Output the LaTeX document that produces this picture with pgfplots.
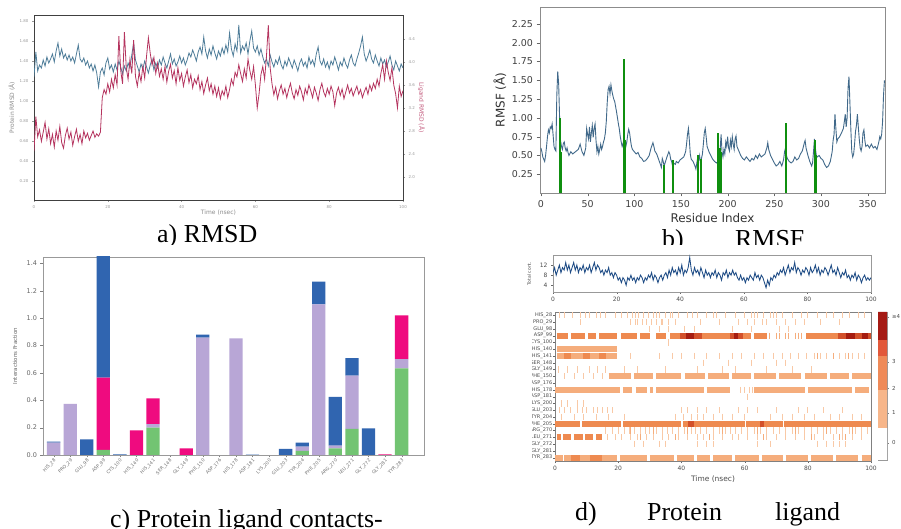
\documentclass[border=0pt]{standalone}
\usepackage{pgfplots}
\usepackage{pgfplotstable}
\pgfplotsset{compat=1.18, /pgf/number format/assume math mode=true}
\usepackage{fontspec}
\setmainfont{DejaVu Sans}
\newfontfamily\capfont{Liberation Serif}

\definecolor{pablue}{HTML}{4F7D99}
\definecolor{pared}{HTML}{B5345F}
\definecolor{pbline}{HTML}{41698A}
\definecolor{pbgreen}{HTML}{0F8F0F}
\definecolor{pcgreen}{HTML}{72C472}
\definecolor{pclav}{HTML}{B8A6D6}
\definecolor{pcmag}{HTML}{EF0B7F}
\definecolor{pcblue}{HTML}{3065B0}
\definecolor{pdnavy}{HTML}{1D4B85}
\definecolor{hmA}{HTML}{F9C9A6}
\definecolor{hmB}{HTML}{F5AD7C}
\definecolor{hmC}{HTML}{EE8A50}
\definecolor{hmD}{HTML}{D2502A}
\definecolor{hmE}{HTML}{A51C10}
\definecolor{cbA}{HTML}{F7B68A}
\definecolor{cbB}{HTML}{EF8A58}
\definecolor{cbC}{HTML}{E2583A}
\definecolor{cbD}{HTML}{A51A14}

% time series: protein RMSD, ligand RMSD, total contacts
\pgfplotstableread{
t prot lig cont
0 1.24 2.45 9
0.5 1.49 3.05 11
1 1.30 2.70 8
1.5 1.36 2.82 10
2 1.33 2.62 12
2.5 1.41 2.78 9
3 1.35 2.95 11
3.5 1.44 2.66 10
4 1.38 2.84 13
4.5 1.42 2.58 10
5 1.47 2.74 12
5.5 1.39 2.52 9
6 1.50 2.80 11
6.5 1.58 2.64 13
7 1.45 2.88 10
7.5 1.52 2.60 12
8 1.43 2.50 9
8.5 1.47 2.72 11
9 1.41 2.85 10
9.5 1.46 2.66 12
10 1.40 2.78 9
10.5 1.44 2.55 11
11 1.38 2.70 10
11.5 1.47 2.83 12
12 1.56 2.62 9
12.5 1.42 2.74 11
13 1.39 2.58 13
13.5 1.43 2.80 10
14 1.36 2.68 12
14.5 1.40 2.76 11
15 1.33 2.64 9
15.5 1.37 2.72 10
16 1.30 2.80 8
16.5 1.36 2.69 10
17 1.28 2.75 9
17.5 1.14 2.71 11
18 1.29 2.78 8
18.5 1.33 3.38 9
19 1.26 3.52 7
19.5 1.38 3.44 9
20 1.43 3.62 8
20.5 1.32 3.48 6
21 1.36 3.70 7
21.5 1.29 3.55 5
22 1.37 3.78 7
22.5 1.31 3.60 6
23 1.40 4.45 4
23.5 1.34 3.85 7
24 1.27 3.62 6
24.5 1.35 4.52 8
25 1.30 3.90 6
25.5 1.38 3.70 7
26 1.33 4.05 5
26.5 1.46 3.80 7
27 1.58 4.38 6
27.5 1.41 3.75 8
28 1.35 3.58 7
28.5 1.29 3.82 5
29 1.37 3.66 7
29.5 1.32 3.92 6
30 1.40 3.72 8
30.5 1.34 4.10 7
31 1.28 4.42 9
31.5 1.36 4.15 6
32 1.42 3.95 8
32.5 1.31 4.08 7
33 1.38 3.80 5
33.5 1.33 3.98 7
34 1.41 3.75 8
34.5 1.36 3.88 6
35 1.44 3.70 8
35.5 1.38 3.92 9
36 1.33 3.65 7
36.5 1.40 3.84 10
37 1.47 3.96 8
37.5 1.37 3.72 11
38 1.42 3.85 9
38.5 1.35 3.62 10
39 1.39 3.90 8
39.5 1.45 3.68 11
40 1.38 3.80 9
40.5 1.43 3.58 12
41 1.36 3.74 8
41.5 1.41 3.86 10
42 1.48 3.64 9
42.5 1.44 3.78 11
43 1.51 3.55 15
43.5 1.46 3.70 10
44 1.40 3.62 8
44.5 1.49 3.76 11
45 1.54 3.52 9
45.5 1.47 3.66 10
46 1.64 3.45 8
46.5 1.50 3.60 11
47 1.43 3.72 9
47.5 1.52 3.50 7
48 1.46 3.62 10
48.5 1.55 3.44 8
49 1.48 3.58 9
49.5 1.42 3.40 7
50 1.50 3.55 9
50.5 1.45 3.36 8
51 1.53 3.50 10
51.5 1.47 3.42 7
52 1.56 3.58 9
52.5 1.49 3.38 8
53 1.68 3.52 6
53.5 1.52 3.70 9
54 1.45 3.60 8
54.5 1.57 3.82 10
55 1.50 3.74 7
55.5 1.76 3.95 9
56 1.48 3.80 8
56.5 1.55 3.66 10
57 1.51 3.88 8
57.5 1.58 3.72 9
58 1.47 4.05 7
58.5 1.60 3.85 6
59 1.70 3.70 8
59.5 1.53 3.92 6
60 1.49 3.60 7
60.5 1.55 3.20 5
61 1.46 3.45 7
61.5 1.52 3.78 6
62 1.44 3.92 8
62.5 1.38 3.70 7
63 1.42 4.10 6
63.5 1.35 4.64 9
64 1.46 3.90 7
64.5 1.39 3.62 8
65 1.34 3.43 6
65.5 1.41 3.56 8
66 1.37 3.36 7
66.5 1.44 3.50 5
67 1.36 3.60 3
67.5 1.32 3.44 6
68 1.40 3.54 4
68.5 1.35 3.38 7
69 1.43 3.52 6
69.5 1.38 3.63 8
70 1.33 3.46 7
70.5 1.41 3.36 9
71 1.36 3.52 8
71.5 1.30 3.42 10
72 1.38 3.58 9
72.5 1.42 3.48 11
73 1.35 3.34 8
73.5 1.39 3.54 10
74 1.33 3.44 12
74.5 1.44 3.60 9
75 1.37 3.50 11
75.5 1.41 3.38 10
76 1.35 3.56 13
76.5 1.47 3.46 9
77 1.54 3.33 11
77.5 1.40 3.52 10
78 1.36 3.63 8
78.5 1.42 3.48 10
79 1.34 3.40 9
79.5 1.39 3.54 11
80 1.32 3.44 10
80.5 1.40 3.58 8
81 1.36 3.48 11
81.5 1.44 3.24 9
82 1.38 3.46 10
82.5 1.31 3.56 12
83 1.39 3.42 9
83.5 1.35 3.53 11
84 1.43 3.36 8
84.5 1.37 3.48 10
85 1.33 3.60 9
85.5 1.41 3.46 11
86 1.46 3.54 10
86.5 1.38 3.41 8
87 1.35 3.50 10
87.5 1.42 3.58 12
88 1.48 3.44 9
88.5 1.55 3.52 10
89 1.64 3.38 8
89.5 1.47 3.48 11
90 1.40 3.56 9
90.5 1.45 3.44 7
91 1.51 3.60 9
91.5 1.42 3.50 8
92 1.38 3.63 10
92.5 1.46 3.54 7
93 1.40 3.70 8
93.5 1.35 3.58 6
94 1.43 3.80 8
94.5 1.37 3.95 7
95 1.41 3.70 9
95.5 1.34 4.02 6
96 1.39 3.82 8
96.5 1.45 3.68 7
97 1.36 3.90 5
97.5 1.31 3.60 7
98 1.40 3.45 8
98.5 1.35 3.20 6
99 1.30 3.58 7
99.5 1.37 3.40 6
100 1.33 3.50 7
}\rmsd

% contact fractions: H-bonds, hydrophobic, ionic, water bridges
\pgfplotstableread{
x hb hy io wb
0 0 0.090 0 0.008
1 0 0.373 0 0
2 0 0 0 0.115
3 0.037 0 0.528 0.935
4 0 0 0 0.004
5 0 0 0.180 0
6 0.200 0.026 0.188 0
7 0 0 0 0
8 0 0 0.049 0
9 0 0.857 0 0.022
10 0 0 0 0
11 0 0.852 0 0
12 0 0 0 0.003
13 0 0 0 0
14 0 0 0 0.044
15 0.030 0.031 0 0.029
16 0 1.100 0 0.166
17 0.049 0.019 0 0.356
18 0.190 0.390 0 0.128
19 0 0 0 0.195
20 0 0 0.004 0
21 0.633 0.067 0.320 0
}\contacts

\begin{document}
\begin{tikzpicture}
\path[use as bounding box, fill=white] (0,0) rectangle (901bp,529bp);

% ---------- a) RMSD
\begin{axis}[at={(34bp,329bp)}, anchor=south west, scale only axis,
  width=369bp, height=185bp, xmin=0, xmax=100, ymin=0.01, ymax=1.86,
  xtick={0,20,...,100}, ytick={0.2,0.4,...,1.8},
  yticklabel style={/pgf/number format/.cd, fixed, fixed zerofill, precision=2},
  tick label style={font=\fontsize{4}{4}\selectfont, text=black!40},
  tick align=outside, xtick pos=bottom, ytick pos=left, major tick length=2bp,
  tick style={black!40, line width=0.4bp},
  axis line style={black!75, line width=0.9bp},
  xlabel={Time (nsec)}, ylabel={Protein RMSD (Å)},
  label style={font=\fontsize{6}{6}\selectfont, text=black!45},
  xlabel style={at={(axis description cs:0.5,-0.07)}, anchor=center},
  ylabel style={at={(axis description cs:-0.06,0.5)}, anchor=center}]
\addplot[pablue, line width=0.8bp] table[x=t, y=prot] {\rmsd};
\end{axis}
\begin{axis}[at={(34bp,329bp)}, anchor=south west, scale only axis,
  width=369bp, height=185bp, xmin=0, xmax=100, ymin=1.6, ymax=4.817,
  axis x line=none, axis y line*=right, ytick={2.0,2.4,...,4.4},
  yticklabel style={/pgf/number format/.cd, fixed, fixed zerofill, precision=1},
  tick label style={font=\fontsize{4}{4}\selectfont, text=black!40},
  tick align=outside, major tick length=2bp,
  tick style={black!40, line width=0.4bp},
  axis line style={black!75, line width=0.9bp},
  ylabel={Ligand RMSD (Å)},
  ylabel style={font=\fontsize{6}{6}\selectfont, text=pared!80,
    at={(axis description cs:1.05,0.5)}, anchor=center, rotate=180}]
\addplot[pared, line width=0.8bp] table[x=t, y=lig] {\rmsd};
\end{axis}

% ---------- b) RMSF
\begin{axis}[at={(540bp,336bp)}, anchor=south west, scale only axis,
  width=345bp, height=186bp, xmin=-1, xmax=368.6, ymin=0, ymax=2.477,
  xtick={0,50,...,350}, ytick={0.25,0.5,...,2.25},
  yticklabel style={/pgf/number format/.cd, fixed, fixed zerofill, precision=2},
  tick label style={font=\fontsize{9.5}{10}\selectfont, text=black!75},
  tick align=outside, xtick pos=bottom, ytick pos=left, major tick length=3.5bp,
  tick style={black!60},
  axis line style={black!45, line width=0.8bp},
  xlabel={Residue Index}, ylabel={RMSF (Å)},
  label style={font=\fontsize{12}{12}\selectfont, text=black!80},
  xlabel style={at={(axis description cs:0.5,-0.134)}, anchor=center},
  ylabel style={at={(axis description cs:-0.116,0.5)}, anchor=center}]
\addplot[pbline, line width=0.9bp] coordinates {
(0,0.60)(1,0.55)(2,0.48)(3,0.45)(4,0.42)(5,0.50)(6,0.62)(7,0.75)(8,0.84)(9,0.80)
(10,0.88)(11,0.86)(12,0.92)(13,0.78)(14,0.62)(15,0.58)(16,0.56)(17,1.30)(18,1.62)(19,1.45)
(20,1.00)(21,0.70)(22,0.62)(23,0.58)(24,0.66)(25,0.68)(26,0.60)(27,0.56)(28,0.60)(29,0.54)
(30,0.50)(32,0.55)(34,0.52)(36,0.54)(38,0.56)(40,0.58)(42,0.65)(44,0.55)(46,0.50)(48,0.60)
(49,0.86)(50,0.78)(51,0.72)(52,0.88)(53,0.68)(54,0.80)(55,0.90)(56,0.74)(57,0.86)(58,0.92)
(59,0.70)(60,0.55)(61,0.62)(62,0.52)(63,0.58)(64,0.65)(65,0.58)(66,0.62)(67,0.68)(68,0.72)
(69,0.80)(70,0.95)(71,1.20)(72,1.38)(73,1.42)(74,1.32)(75,1.44)(76,1.36)(77,1.30)(78,1.25)
(79,1.22)(80,1.15)(81,1.08)(82,1.00)(83,0.92)(84,0.85)(85,0.75)(86,0.68)(87,0.62)(88,0.66)
(89,0.72)(90,0.70)(91,0.62)(92,0.68)(93,0.78)(94,0.85)(95,0.80)(96,0.70)(97,0.62)(98,0.58)
(100,0.55)(102,0.52)(104,0.54)(106,0.48)(108,0.46)(110,0.42)(112,0.43)(114,0.46)(116,0.50)
(118,0.60)(120,0.67)(121,0.62)(122,0.56)(124,0.52)(126,0.45)(128,0.38)(129,0.34)(130,0.46)
(131,0.42)(132,0.36)(133,0.40)(135,0.48)(137,0.55)(138,0.52)(139,0.45)(140,0.42)(141,0.36)
(142,0.40)(144,0.38)(145,0.42)(147,0.40)(149,0.44)(151,0.46)(153,0.48)(155,0.55)(156,0.65)
(157,0.78)(158,0.86)(159,0.70)(160,0.52)(161,0.45)(163,0.42)(165,0.36)(166,0.32)(167,0.40)
(168,0.48)(169,0.44)(170,0.50)(171,0.38)(172,0.46)(173,0.52)(174,0.65)(175,0.80)(176,0.86)
(177,0.75)(178,0.62)(180,0.55)(182,0.50)(184,0.45)(186,0.42)(188,0.40)(190,0.42)(191,0.40)
(192,0.58)(193,0.78)(194,0.55)(195,0.48)(196,0.58)(197,0.52)(198,0.68)(199,0.62)(200,0.75)
(201,0.60)(202,0.56)(203,0.70)(204,0.62)(205,0.75)(206,0.65)(207,0.58)(208,0.72)(209,0.76)
(210,0.62)(212,0.56)(214,0.50)(216,0.46)(218,0.44)(220,0.48)(222,0.45)(224,0.42)(226,0.46)
(228,0.44)(230,0.50)(232,0.46)(234,0.52)(236,0.48)(238,0.50)(240,0.52)(242,0.60)(243,0.67)
(244,0.58)(246,0.50)(248,0.45)(250,0.40)(252,0.36)(254,0.38)(256,0.42)(258,0.36)(259,0.40)
(260,0.45)(261,0.55)(262,0.60)(263,0.50)(264,0.46)(266,0.42)(268,0.40)(270,0.42)(272,0.48)
(274,0.44)(276,0.46)(278,0.52)(280,0.56)(282,0.66)(283,0.70)(284,0.60)(286,0.50)(288,0.42)
(290,0.36)(291,0.40)(292,0.55)(293,0.72)(294,0.60)(295,0.50)(296,0.48)(298,0.50)(300,0.46)
(302,0.44)(304,0.38)(306,0.34)(308,0.36)(310,0.42)(312,0.55)(313,0.70)(314,0.78)(315,1.05)
(316,0.85)(317,0.68)(318,0.72)(320,0.75)(322,0.80)(324,0.86)(325,0.95)(326,1.05)(327,0.88)
(328,1.00)(329,1.40)(330,1.55)(331,1.20)(332,0.85)(333,0.55)(334,0.48)(335,0.52)(336,0.65)
(337,0.82)(338,0.90)(339,1.05)(340,0.88)(341,0.72)(342,0.60)(343,0.56)(344,0.62)(345,0.80)
(346,0.84)(347,0.70)(348,0.62)(350,0.64)(352,0.60)(354,0.65)(356,0.60)(358,0.62)(360,0.58)
(362,0.68)(363,0.75)(364,0.72)(365,0.78)(366,0.95)(367,1.30)(368,1.50)};
\addplot[ycomb, pbgreen, line width=2bp] coordinates {
(20,1.00)(21,0.55)(89.5,1.78)(90.5,0.70)(132,0.37)(141,0.44)(142,0.40)
(168,0.50)(172,0.45)(190,0.80)(192,0.60)(193,0.55)(262,0.93)(263,0.60)
(294,0.70)(295,0.50)};
\end{axis}

% ---------- c) contacts
\begin{axis}[at={(43bp,74bp)}, anchor=south west, scale only axis,
  width=381bp, height=198bp, ybar stacked, bar width=13.3bp,
  xmin=-0.64, xmax=22.35, ymin=0, ymax=1.446,
  xtick={0,...,21},
  xticklabels={HIS\_28,PRO\_29,GLU\_98,ASP\_99,CYS\_100,HIS\_140,HIS\_141,SER\_148,
    GLY\_149,PHE\_150,ASP\_176,HIS\_178,ASP\_181,LYS\_200,GLU\_203,TYR\_204,PHE\_205,
    ARG\_270,LEU\_271,GLY\_272,GLY\_281,TYR\_283},
  xticklabel style={rotate=45, anchor=north east, font=\fontsize{4.6}{4.6}\selectfont,
    text=black!55, inner sep=0.5bp},
  ytick={0,0.2,...,1.4},
  yticklabel style={/pgf/number format/.cd, fixed, fixed zerofill, precision=1,
    /tikz/font=\fontsize{6.5}{7}\selectfont, /tikz/text=black!60},
  tick align=outside, xtick pos=bottom, ytick pos=left, major tick length=2.5bp,
  tick style={black!50},
  axis line style={black!40, line width=0.7bp},
  ylabel={Interactions Fraction},
  ylabel style={font=\fontsize{5.5}{6}\selectfont, text=black!60,
    at={(axis description cs:-0.0735,0.5)}, anchor=center}]
\addplot[fill=pcgreen, draw=none] table[x=x, y=hb] {\contacts};
\addplot[fill=pclav, draw=none] table[x=x, y=hy] {\contacts};
\addplot[fill=pcmag, draw=none] table[x=x, y=io] {\contacts};
\addplot[fill=pcblue, draw=none] table[x=x, y=wb] {\contacts};
\end{axis}

% ---------- d) total contacts
\begin{axis}[at={(553bp,237bp)}, anchor=south west, scale only axis,
  width=318bp, height=37bp, xmin=0, xmax=100, ymin=1.3, ymax=16,
  xtick={0,20,...,100}, ytick={4,8,12},
  tick label style={font=\fontsize{6}{6}\selectfont, text=black!70},
  tick align=outside, xtick pos=bottom, ytick pos=left, major tick length=2bp,
  tick style={black!60},
  axis line style={black!40, line width=0.7bp},
  ylabel={Total cont.},
  ylabel style={font=\fontsize{4.5}{5}\selectfont, text=black!70,
    at={(axis description cs:-0.075,0.5)}, anchor=center}]
\addplot[pdnavy, line width=0.85bp] table[x=t, y=cont] {\rmsd};
\end{axis}

% ---------- d) contact timeline
\begin{scope}
\clip (532bp,0bp) rectangle (901bp,529bp);
\begin{axis}[at={(555bp,68bp)}, anchor=south west, scale only axis,
  width=316bp, height=149bp, xmin=0, xmax=100, ymin=-0.5, ymax=21.5,
  y dir=reverse, unbounded coords=jump,
  xtick={0,20,...,100}, ytick={0,...,21},
  yticklabels={HIS\_28,PRO\_29,GLU\_98,ASP\_99,CYS\_100,HIS\_140,HIS\_141,SER\_148,
    GLY\_149,PHE\_150,ASP\_176,HIS\_178,ASP\_181,LYS\_200,GLU\_203,TYR\_204,PHE\_205,
    ARG\_270,LEU\_271,GLY\_272,GLY\_281,TYR\_283},
  yticklabel style={font=\fontsize{5}{5}\selectfont, text=black!70, inner sep=0.5bp},
  xticklabel style={font=\fontsize{6}{6}\selectfont, text=black!70},
  tick align=outside, xtick pos=bottom, ytick pos=left, major tick length=2bp,
  tick style={black!60},
  axis line style={black!50, line width=0.7bp},
  xlabel={Time (nsec)},
  xlabel style={font=\fontsize{7.5}{8}\selectfont, text=black!70,
    at={(axis description cs:0.5,-0.12)}, anchor=center}]
% light streaks
\addplot[only marks, mark=|, mark size=3.1bp, hmA, mark options={line width=0.7bp}] coordinates {
(1.5,0)(3,0)(5.5,0)(8,0)(9.5,0)(11,0)(13,0)(14.5,0)(16,0)(19,0)(21,0)(23,0)(24.5,0)(25.5,0)
(26.5,0)(28,0)(29.5,0)(31,0)(32,0)(33,0)(35,0)(36.5,0)(37,0)(39,0)(42,0)(43.5,0)(45,0)(48,0)
(50,0)(51,0)(54,0)(57,0)(60,0)(62,0)(63,0)(64,0)(66,0)(68,0)(69,0)(70,0)(72,0)(75,0)(78,0)
(80,0)(83,0)(86,0)(88,0)(91,0)(93,0)(96,0)(98,0)
(8,1)(24,1)(25.5,1)(26,1)(27.5,1)(29,1)(30.5,1)(32,1)(33.5,1)(34,1)(36,1)(38,1)(46,1)(52,1)
(58,1)(61,1)(63,1)(65.5,1)(67,1)(70,1)(73,1)(76,1)(79,1)(84,1)(90,1)
(30,2)(33,2)(36,2)(41,2)(44,2)(56,2)(62,2)(71,2)(74,2)
(36,4)
(24,6)(33,6)(37,6)(40,6)(44,6)(48,6)(52,6)(56,6)(59,6)(63,6)(66,6)(69,6)(72,6)(74.5,6)
(77,6)(79.5,6)(82,6)(84,6)(86,6)(90,6)(92,6)(94,6)(96,6)(98,6)
(47,7)(55,7)(62,7)(70,7)(73,7)
(1,8)(4,8)(7,8)(11,8)(13.5,8)(16,8)(22,8)(26,8)(35,8)(45,8)(53,8)(57,8)(67,8)(75,8)(81,8)
(3,9)(6,9)(9,9)(12,9)(15,9)
(58.5,11)(60,11)(61.5,11)(62.5,11)
(61,12)
(2,13)(4,13)(7,13)(9,13)
(1.5,14)(3,14)(5,14)(7,14)(8.5,14)(10,14)(12,14)(13.5,14)(15,14)(16.5,14)(18,14)(40,14)
(42,14)(45,14)(48,14)(52,14)(58,14)(61,14)(64,14)(70,14)(77,14)(80,14)(85,14)(91,14)
(2,15)(6,15)(9,15)(13,15)(17,15)(22,15)(38,15)(40.5,15)(43,15)(45,15)(47,15)(50,15)(53,15)
(56,15)(60,15)(68,15)(72,15)(75,15)(79,15)(82,15)(87,15)(90,15)(94,15)(97,15)
(16,17)(18,17)(20,17)(22,17)(23.5,17)(25,17)(27,17)(28.5,17)(30,17)(32,17)(34,17)(35.5,17)
(37,17)(39,17)(41,17)(43,17)(44.5,17)(46,17)(48,17)(50,17)(52,17)(54,17)(55.5,17)(57,17)
(59,17)(61,17)(63,17)(65,17)(67,17)(69,17)(71,17)(73,17)(75,17)(77,17)(79,17)(81,17)(83,17)
(85,17)(87,17)(89,17)(91,17)(93,17)(95,17)(97,17)(99,17)
(16.5,18)(19,18)(21,18)(24,18)(26,18)(29,18)(31,18)(34,18)(36,18)(39,18)(42,18)(45,18)
(47,18)(50,18)(53,18)(56,18)(58,18)(61,18)(64,18)(67,18)(70,18)(73,18)(76,18)(79,18)(82,18)
(85,18)(88,18)(91,18)(94,18)(97,18)
(25,19)(28,19)(33,19)(35,19)(45,19)(48,19)(50,19)(64,19)(68,19)(83,19)(86,19)(88,19)
(90,19)(92,19)};
\addplot[only marks, mark=|, mark size=3.1bp, hmB, mark options={line width=0.8bp}] coordinates {
(68,3)(70,3)(71,3)(73,3)(74,3)(76,3)(77,3)(78,3)
(83,6)(88,6)(93,6)
(24,17)(31,17)(42,17)(53,17)(64,17)(76,17)(86,17)(94,17)
(27,18)(38,18)(49,18)(66,18)(81,18)(90,18)(92,18)};
% bands
\addplot[hmB, line width=6.2bp] coordinates {
(0.5,5)(19.5,5)(19.5,nan)(0.5,6)(19.5,6)(19.5,nan)
(17,9)(24,9)(24,nan)(25,9)(31,9)(31,nan)(32,9)(40,9)(40,nan)(41,9)(47.5,9)(47.5,nan)
(48.5,9)(55,9)(55,nan)(56,9)(62,9)(62,nan)(63,9)(70,9)(70,nan)(71,9)(78,9)(78,nan)
(79,9)(86,9)(86,nan)(87,9)(93,9)(93,nan)(94,9)(100,9)(100,nan)
(0,11)(20.5,11)(20.5,nan)(21.5,11)(24.5,11)(24.5,nan)(25.5,11)(29,11)(29,nan)
(30,11)(31,11)(31,nan)(32,11)(47,11)(47,nan)(48,11)(55.5,11)(55.5,nan)(63,11)(79,11)(79,nan)
(80,11)(94,11)(94,nan)(95,11)(99.5,11)(99.5,nan)
(0,21)(2.5,21)(2.5,nan)(3,21)(19.5,21)(19.5,nan)(20.5,21)(29,21)(29,nan)(30,21)(37.5,21)(37.5,nan)
(38.5,21)(44,21)(44,nan)(45,21)(49,21)(49,nan)(50,21)(56,21)(56,nan)(57,21)(64.5,21)(64.5,nan)
(65.5,21)(72,21)(72,nan)(73,21)(80,21)(80,nan)(81,21)(88,21)(88,nan)(89,21)(96,21)(96,nan)
(97,21)(100,21)};
\addplot[hmC, line width=6.2bp] coordinates {
(0.5,3)(4,3)(4,nan)(5,3)(9.5,3)(9.5,nan)(10.5,3)(13,3)(13,nan)(14,3)(19.5,3)(19.5,nan)
(21,3)(26,3)(26,nan)(27,3)(30,3)(30,nan)(32,3)(35,3)(35,nan)(36.5,3)(39.5,3)(39.5,nan)
(46.5,3)(55.5,3)(55.5,nan)(59.5,3)(62,3)(62,nan)(63,3)(67,3)(67,nan)(79.5,3)(89.5,3)(89.5,nan)
(3,6)(5,6)(5,nan)(9,6)(11,6)(11,nan)(14,6)(16,6)(16,nan)
(0,16)(8,16)(8,nan)(8.5,16)(21,16)(21,nan)(21.5,16)(40,16)(40,nan)(40.5,16)(60,16)(60,nan)
(60.5,16)(72,16)(72,nan)(72.5,16)(100,16)(100,nan)
(0.5,18)(2,18)(2,nan)(2.5,18)(5,18)(5,nan)(6,18)(9,18)(9,nan)(9.5,18)(12,18)(12,nan)
(13,18)(15,18)(15,nan)
(5,21)(8,21)(8,nan)(11,21)(15,21)};
\addplot[hmD, line width=6.2bp] coordinates {
(39.5,3)(41.5,3)(41.5,nan)(44,3)(46.5,3)(46.5,nan)(55.5,3)(56.5,3)(56.5,nan)
(58,3)(59.5,3)(59.5,nan)(89.5,3)(92,3)(92,nan)(95,3)(97,3)(97,nan)(99,3)(100,3)(100,nan)
(42,16)(44,16)(44,nan)(65,16)(66,16)};
\addplot[hmE, line width=6.2bp] coordinates {
(41.5,3)(44,3)(44,nan)(56.5,3)(58,3)(58,nan)(92,3)(95,3)(95,nan)(97,3)(99,3)};
\end{axis}
\end{scope}

% ---------- colour bar
\begin{axis}[at={(878bp,69bp)}, anchor=south west, scale only axis,
  width=9bp, height=148bp, xmin=0, xmax=1, ymin=0, ymax=148,
  xtick=\empty, ytick={17,47,72,98,143}, yticklabels={0,1,2,3,≥4},
  yticklabel pos=right, ytick pos=right,
  yticklabel style={font=\fontsize{5.5}{5.5}\selectfont, text=black!70},
  tick align=outside, major tick length=1.5bp, tick style={black!50},
  axis line style={black!40, line width=0.6bp}]
\addplot[fill=white, draw=none] coordinates {(0,0)(1,0)(1,32)(0,32)(0,0)};
\addplot[fill=cbA, draw=none] coordinates {(0,32)(1,32)(1,70)(0,70)(0,32)};
\addplot[fill=cbB, draw=none] coordinates {(0,70)(1,70)(1,104)(0,104)(0,70)};
\addplot[fill=cbC, draw=none] coordinates {(0,104)(1,104)(1,120)(0,120)(0,104)};
\addplot[fill=cbD, draw=none] coordinates {(0,120)(1,120)(1,148)(0,148)(0,120)};
\end{axis}

% ---------- captions
\begin{scope}
\clip (0bp,284bp) rectangle (901bp,529bp);
\node[anchor=base west, inner sep=0pt] at (157bp,286bp) {\capfont\fontsize{26}{28}\selectfont a) RMSD};
\node[anchor=base west, inner sep=0pt] at (662bp,281bp) {\capfont\fontsize{26}{28}\selectfont b)};
\node[anchor=base west, inner sep=0pt] at (735bp,281bp) {\capfont\fontsize{26}{28}\selectfont RMSF};
\end{scope}
\node[anchor=base west, inner sep=0pt] at (110bp,2bp) {\capfont\fontsize{26}{28}\selectfont c) Protein ligand contacts-};
\node[anchor=base west, inner sep=0pt] at (575bp,9bp) {\capfont\fontsize{26}{28}\selectfont d)};
\node[anchor=base west, inner sep=0pt] at (647bp,9bp) {\capfont\fontsize{26}{28}\selectfont Protein};
\node[anchor=base west, inner sep=0pt] at (775bp,9bp) {\capfont\fontsize{26}{28}\selectfont ligand};
\end{tikzpicture}
\end{document}
